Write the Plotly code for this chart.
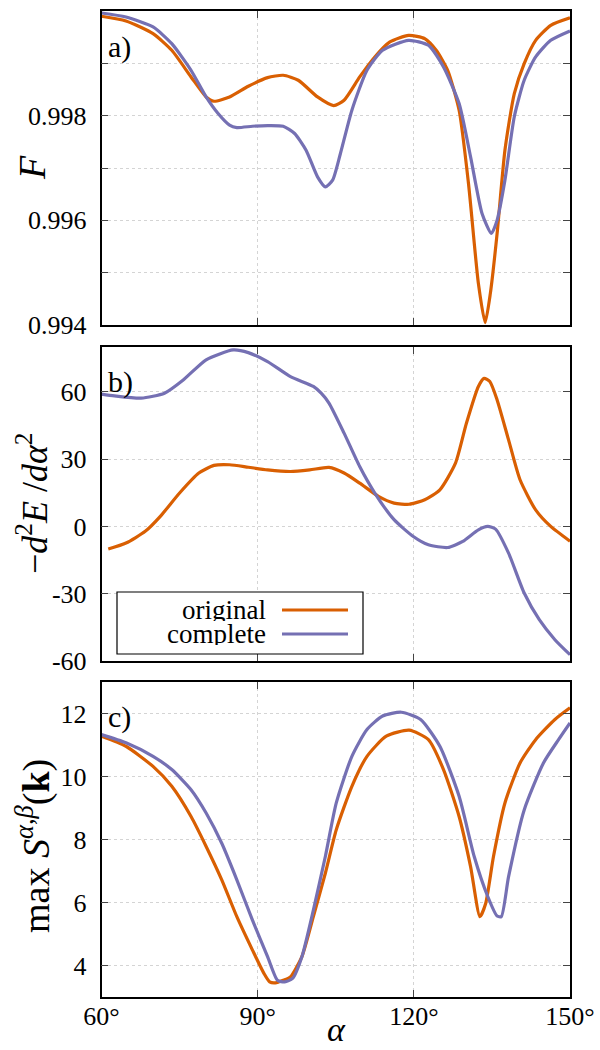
import plotly.graph_objects as go

# ---------------- data ----------------
ORANGE = "#d95f02"
PURPLE = "#7570b3"

# panel a) fidelity F
alpha_a_orig = [60, 64.7, 69.9, 73.5, 77.2, 80.1, 81.6, 84.6, 88.2, 91.9, 94.9, 97.8, 101.5, 104.6,
                106.6, 109.6, 112.5, 115.4, 119, 122.1, 124.3, 126.5, 128.7, 130.5, 132.4, 133.7,
                134.7, 136, 137.5, 139.3, 141.2, 143.4, 146.3, 150]
F_orig = [0.99990, 0.99981, 0.999567, 0.999249, 0.998740, 0.998358, 0.998276, 0.998358, 0.998562,
          0.998727, 0.998772, 0.998677, 0.998358, 0.998193, 0.998295, 0.998740, 0.999122, 0.999408,
          0.999535, 0.999472, 0.999249, 0.998867, 0.998104, 0.996704, 0.994795, 0.994044,
          0.994604, 0.995750, 0.997340, 0.998422, 0.998995, 0.999440, 0.999726, 0.999870]

alpha_a_comp = [60, 64.7, 69.9, 73.5, 77.2, 80.1, 82.4, 84.6, 86, 89, 91.9, 94.9, 97.1, 99.3, 101.5,
                103, 104.4, 105.9, 108.1, 111, 114, 119, 122.8, 125.7, 128.7, 130.9, 133.1, 134.9,
                136, 137.5, 139.3, 141.2, 143.4, 146.3, 150]
F_comp = [0.999962, 0.999885, 0.999695, 0.999376, 0.998867, 0.998358, 0.998040, 0.997818, 0.997773,
          0.997798, 0.997811, 0.997798, 0.997659, 0.997340, 0.996831, 0.996640, 0.996768, 0.997277,
          0.998104, 0.998867, 0.999249, 0.999440, 0.999345, 0.998931, 0.998231, 0.997213, 0.996131,
          0.995750, 0.996004, 0.996768, 0.997980, 0.998677, 0.999122, 0.999440, 0.999620]

# panel b) -d^2E/dalpha^2
alpha_b_orig = [61.3, 64.7, 68.4, 71.3, 75, 78.7, 81.6, 84.6, 88.2, 91.9, 96.3, 100, 103.7, 106.6,
                109.6, 113.2, 116.2, 119.1, 122.1, 125, 128, 130.1, 132.4, 133.5, 134.6, 136, 138.2,
                140.4, 143.4, 146.3, 150]
d2E_orig = [-10.1, -7.4, -2.2, 4.5, 14.9, 23.8, 27.2, 27.5, 26.4, 25.2, 24.5, 25.2, 26.3, 23.8,
            19.3, 13.4, 10.4, 9.9, 11.9, 16.3, 28.2, 46.0, 62.4, 66.0, 64.6, 56.4, 38.6,
            20.8, 7.4, 0.0, -6.6]

alpha_b_comp = [60, 62.5, 67.6, 72.1, 75.7, 80.1, 85.3, 88.2, 91.9, 96.3, 100.7, 102.2, 103.7, 106.6,
                109.6, 112.5, 116.2, 119.9, 122.8, 126.5, 129.4, 132.4, 134.2, 135.7, 138.2, 141.2,
                144.1, 147.1, 150]
d2E_comp = [59.0, 58.2, 57.2, 59.4, 65.3, 74.3, 78.7, 77.5, 73.5, 66.8, 62.4, 59.4, 55.0, 41.6,
            26.7, 14.9, 3.0, -4.5, -8.2, -9.4, -6.7, -1.5, 0.0, -1.2, -11.9, -29.7,
            -41.6, -50.5, -57.2]

# panel c) max S^{alpha,beta}(k)
alpha_c_orig = [60, 64.7, 69.9, 73.5, 77.2, 80.1, 83.1, 86, 89, 91.2, 92.3, 93.4, 94.9, 96.3, 98.5,
                100.7, 103, 105.1, 108.1, 111, 114.7, 119.1, 122.8, 125.7, 128.7, 130.9, 132.7,
                133.8, 135.3, 137.5, 140.4, 143.4, 147.1, 150]
S_orig = [11.28, 10.96, 10.32, 9.69, 8.73, 7.78, 6.72, 5.55, 4.49, 3.75, 3.48, 3.45, 3.53, 3.64, 4.28,
          5.55, 6.93, 8.31, 9.69, 10.64, 11.28, 11.47, 11.17, 10.22, 8.73, 7.14, 5.55,
          5.97, 7.46, 9.16, 10.43, 11.17, 11.81, 12.18]

alpha_c_comp = [60, 64.7, 69.9, 73.5, 77.2, 80.1, 83.1, 86, 89, 91.9, 93.8, 95.2, 96.7, 98.5, 100.7,
                103, 105.1, 108.1, 111, 114, 117.6, 121.3, 125, 128.7, 131.6, 134.2, 136, 136.8,
                138.2, 141.2, 144.9, 147.8, 150]
S_comp = [11.33, 11.07, 10.64, 10.22, 9.58, 8.84, 7.88, 6.72, 5.44, 4.28, 3.53, 3.48, 3.59, 4.28, 5.76,
          7.46, 9.16, 10.64, 11.49, 11.92, 12.04, 11.81, 10.96, 9.37, 7.46, 6.19, 5.57, 5.55,
          6.82, 8.94, 10.43, 11.17, 11.70]

x_tickvals = [60, 90, 120, 150]
x_ticktext = ["60°", "90°", "120°", "150°"]
a_tickvals = [0.994, 0.996, 0.998, 1.0]
a_ticktext = ["0.994", "0.996", "0.998", "1"]
b_tickvals = [-60, -30, 0, 30, 60]
b_ticktext = ["-60", "-30", "0", "30", "60"]
c_tickvals = [4, 6, 8, 10, 12]
c_ticktext = ["4", "6", "8", "10", "12"]

series_names = ["original", "complete"]

# ---------------- figure ----------------
W, H = 600, 1050
FONT = "Liberation Serif"

fig = go.Figure()

def add(x, y, color, xa, ya, name):
    fig.add_trace(go.Scatter(x=x, y=y, mode="lines", name=name, showlegend=False,
                             line=dict(color=color, width=3.2, shape="spline", smoothing=0.6),
                             xaxis=xa, yaxis=ya))

add(alpha_a_orig, F_orig, ORANGE, "x", "y", series_names[0])
add(alpha_a_comp, F_comp, PURPLE, "x", "y", series_names[1])
add(alpha_b_orig, d2E_orig, ORANGE, "x2", "y2", series_names[0])
add(alpha_b_comp, d2E_comp, PURPLE, "x2", "y2", series_names[1])
add(alpha_c_orig, S_orig, ORANGE, "x3", "y3", series_names[0])
add(alpha_c_comp, S_comp, PURPLE, "x3", "y3", series_names[1])

xdom = [101.5 / W, 570 / W]
def ydom(top, bottom):
    return [1 - bottom / H, 1 - top / H]

grid = dict(showgrid=True, gridcolor="#d4d4d4", griddash="dot", gridwidth=1)
frame = dict(showline=True, linecolor="black", linewidth=1.5, mirror="ticks",
             ticks="inside", ticklen=7, tickcolor="#444", tickwidth=1.2, zeroline=False,
             automargin=False)
tfont = dict(family=FONT, size=26, color="black")

def xax(anchor, labels):
    d = dict(domain=xdom, anchor=anchor, range=[60, 150], tickvals=x_tickvals,
             showticklabels=labels, tickfont=tfont, ticklabelstandoff=-5, **grid, **frame)
    if labels:
        d["ticktext"] = x_ticktext
    return d

fig.update_layout(
    template="none",
    width=W, height=H, margin=dict(l=0, r=0, t=0, b=0, pad=0, autoexpand=False),
    font=dict(family=FONT, color="black"),
    plot_bgcolor="white", paper_bgcolor="white", showlegend=False,
    xaxis=xax("y", False),
    xaxis2=xax("y2", False),
    xaxis3=xax("y3", True),
    yaxis=dict(domain=ydom(11, 325), anchor="x", range=[0.994, 1.0], tickvals=a_tickvals,
               ticktext=a_ticktext, tickfont=tfont, ticklabelstandoff=8,
               minor=dict(dtick=0.001, tick0=0.994, ticks="inside", ticklen=7, tickcolor="#444",
                          showgrid=True, gridcolor="#d4d4d4", griddash="dot"),
               **grid, **frame),
    yaxis2=dict(domain=ydom(347, 661), anchor="x2", range=[-60, 80], tickvals=b_tickvals,
                ticktext=b_ticktext, tickfont=tfont, ticklabelstandoff=8, **grid, **frame),
    yaxis3=dict(domain=ydom(682, 997), anchor="x3", range=[3, 13], tickvals=c_tickvals,
                ticktext=c_ticktext, tickfont=tfont, ticklabelstandoff=8, **grid, **frame),
)

def px(x, y):
    return x / W, 1 - y / H

ann = []
# axis titles
for (x, y), text, size in [
    ((32, 168), "<i>F</i>", 38),
    ((32, 504), "−<i>d</i><sup>2</sup><i>E</i> /<i>dα</i><sup>2</sup>", 36),
    ((33, 846), "max <i>S</i><sup><i>α,β</i></sup>(<b>k</b>)", 38),
]:
    xp, yp = px(x, y)
    ann.append(dict(x=xp, y=yp, xref="paper", yref="paper", text=text, showarrow=False,
                    textangle=-90, xanchor="center", yanchor="middle",
                    font=dict(family=FONT, size=size, color="black")))
xp, yp = px(336, 1049)
ann.append(dict(x=xp, y=yp, xref="paper", yref="paper", text="<i>α</i>", showarrow=False,
                xanchor="center", yanchor="bottom", borderpad=0,
                font=dict(family=FONT, size=34, color="black")))
# panel labels
for (x, y), text in [((106, 47), "a)"), ((106, 382), "b)"), ((106, 717), "c)")]:
    xp, yp = px(x, y)
    ann.append(dict(x=xp, y=yp, xref="paper", yref="paper", text=text, showarrow=False,
                    xanchor="left", yanchor="middle", font=dict(family=FONT, size=30, color="black")))

# legend (text left, sample right, as in the original)
shapes = []
x0, y0 = px(117, 592)
x1, y1 = px(363, 654)
shapes.append(dict(type="rect", xref="paper", yref="paper", x0=x0, y0=y1, x1=x1, y1=y0,
                   line=dict(color="black", width=1.2), fillcolor="white", layer="above"))
for name, color, yl in [(series_names[0], ORANGE, 610), (series_names[1], PURPLE, 634)]:
    xp, yp = px(267, yl)
    ann.append(dict(x=xp, y=yp, xref="paper", yref="paper", text=name, showarrow=False,
                    xanchor="right", yanchor="middle", height=22, borderpad=0,
                    font=dict(family=FONT, size=27, color="black")))
    lx0, ly = px(282, yl)
    lx1, _ = px(348, yl)
    shapes.append(dict(type="line", xref="paper", yref="paper", x0=lx0, x1=lx1, y0=ly, y1=ly,
                       line=dict(color=color, width=3.2), layer="above"))

fig.update_layout(annotations=ann, shapes=shapes)
fig.write_html("out.html")
